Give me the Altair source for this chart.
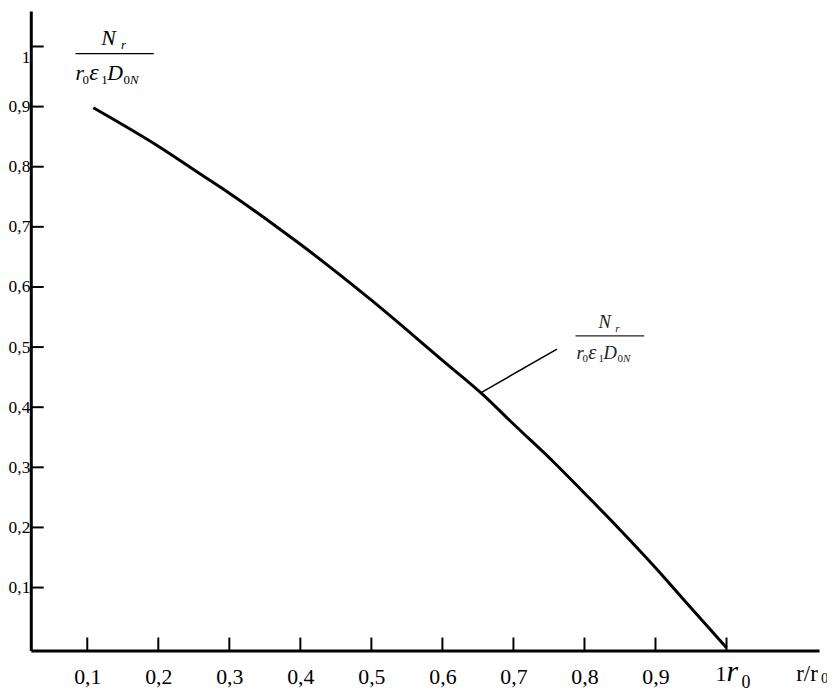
import altair as alt
import pandas as pd

# ---- data ----
r_vals = [0.1085, 0.2, 0.2564, 0.3, 0.368, 0.4, 0.5, 0.6, 0.657, 0.7, 0.759,
          0.8, 0.847, 0.9, 0.947, 1.0]
n_vals = [0.898, 0.834, 0.790, 0.756, 0.699, 0.671, 0.578, 0.478, 0.421, 0.372,
          0.306, 0.257, 0.200, 0.133, 0.070, 0.0]
x_tick_vals = [0.1, 0.2, 0.3, 0.4, 0.5, 0.6, 0.7, 0.8, 0.9, 1.0]
x_label_vals = [0.1, 0.2, 0.3, 0.4, 0.5, 0.6, 0.7, 0.8, 0.9]
y_tick_vals = [0.1, 0.2, 0.3, 0.4, 0.5, 0.6, 0.7, 0.8, 0.9, 1.0]

# annotation anchors (data coordinates)
frac1 = {"x": 0.1385, "y": 0.9883, "half": 0.0551}
frac2 = {"x": 0.8357, "y": 0.5185, "half": 0.0484}
pointer = {"x": 0.6545, "y": 0.4244, "x2": 0.7613, "y2": 0.4965}

FONT = "Liberation Serif"
W, H = 795, 645
X_MIN, X_MAX = 0.0205, 1.1303

xs = alt.Scale(domain=[X_MIN, X_MAX], nice=False, zero=False)
ys = alt.Scale(domain=[-0.0046, 1.0592], nice=False, zero=False)

x_axis = alt.Axis(
    values=x_label_vals, title=None, grid=False, ticks=False, tickSize=0,
    domainWidth=3, domainColor="black", labelFont=FONT, labelFontSize=22,
    labelColor="black", labelPadding=16, labelFlush=False, labelOverlap=False,
    labelExpr="replace(format(datum.value, '.1f'), '.', ',')",
)
y_axis = alt.Axis(
    values=y_tick_vals, title=None, grid=False, ticks=False, tickSize=0,
    domainWidth=3, domainColor="black", labelFont=FONT, labelFontSize=17.5,
    labelColor="black", labelPadding=1, labelFlush=False, labelOverlap=False,
    labelOffset={"condition": {"test": "datum.value == 1", "value": 11}, "value": 0},
    labelExpr="datum.value == 1 ? '1' : replace(format(datum.value, '.1f'), '.', ',')",
)


def X(f="x"):
    return alt.X(f"{f}:Q", scale=xs, axis=x_axis)


def Y(f="y"):
    return alt.Y(f"{f}:Q", scale=ys, axis=y_axis)


curve_df = pd.DataFrame({"x": r_vals, "y": n_vals})
curve = alt.Chart(curve_df).mark_line(
    color="black", strokeWidth=3, interpolate="monotone"
).encode(x=X(), y=Y())

xt_df = pd.DataFrame({"x": x_tick_vals})
xticks = alt.Chart(xt_df).mark_rule(color="black", strokeWidth=2).encode(
    x=X(), y=alt.value(H), y2=alt.value(H - 13)
)
yt_df = pd.DataFrame({"y": y_tick_vals})
yticks = alt.Chart(yt_df).mark_rule(color="black", strokeWidth=2).encode(
    y=Y(), x=alt.value(0), x2=alt.value(13)
)

ptr = alt.Chart(pd.DataFrame([pointer])).mark_rule(color="black", strokeWidth=1.5).encode(
    x=X(), y=Y(), x2="x2:Q", y2="y2:Q"
)


def txt(px, py, s, size, dx, dy, italic=False, align="left", color="black"):
    return alt.Chart(pd.DataFrame({"x": [px], "y": [py]})).mark_text(
        text=s, font=FONT, fontSize=size, fontStyle="italic" if italic else "normal",
        align=align, baseline="alphabetic", dx=dx, dy=dy, color=color,
    ).encode(x=X(), y=Y())


def fraction(a, k, color):
    layers = [
        alt.Chart(pd.DataFrame({"x": [a["x"] - a["half"]], "x2": [a["x"] + a["half"]], "y": [a["y"]]}))
        .mark_rule(color=color, strokeWidth=1.3).encode(x=X(), x2="x2:Q", y=Y())
    ]
    pieces = [
        ("N", 22, -13.5, -9, True),
        ("r", 13, 6.5, -5, True),
        ("r", 22, -39.5, 27, True),
        ("0", 13, -32.5, 31, False),
        ("ε", 24, -25.5, 27, True),
        ("1", 13, -13.5, 31, False),
        ("D", 22, -7.5, 27, True),
        ("0", 13, 9, 31, False),
        ("N", 13, 15.5, 31, True),
    ]
    for s, size, dx, dy, it in pieces:
        layers.append(txt(a["x"], a["y"], s, size * k, dx * k, dy * k, it, color=color))
    return layers


extra = [
    txt(1.0, 0.0, "1", 22, 0, 34, False, align="right"),
    txt(1.0, 0.0, "r", 30, 0, 34, True),
    txt(1.0, 0.0, "0", 18, 15, 41, False),
    txt(X_MAX, 0.0, "r/r", 23, -23, 34, False),
    txt(X_MAX, 0.0, "0", 15, 2, 36, False),
]

chart = alt.layer(
    curve, xticks, yticks, ptr, *fraction(frac1, 1.0, "black"), *fraction(frac2, 0.85, "#222222"), *extra
).properties(
    width=W, height=H,
    background="white",
    padding={"left": 23, "top": 0, "right": 8, "bottom": 40},
    autosize=alt.AutoSizeParams(type="none"),
).configure_view(strokeWidth=0, stroke="transparent")

chart.save("out.html", embed_options={"renderer": "svg", "actions": False})
